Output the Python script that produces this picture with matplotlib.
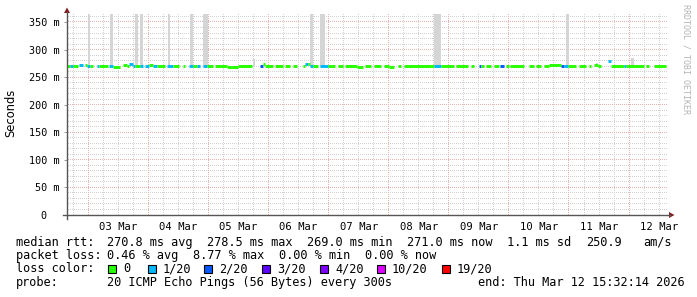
import matplotlib
matplotlib.use("Agg")
import matplotlib.pyplot as plt
import matplotlib.dates as mdates
from matplotlib.lines import Line2D
from matplotlib.patches import Rectangle, Polygon
import numpy as np
from datetime import datetime

# ---------------- data ----------------
start_time = datetime(2026, 3, 2, 15, 32, 14)
end_time = datetime(2026, 3, 12, 15, 32, 14)

# median rtt segments: hours since start, median (ms), loss class index
seg_start = [0.0, 1.2, 2.4, 4.8, 7.2, 8.0, 9.2, 12.0, 12.8, 16.8, 18.4, 22.4, 24.0, 24.8,
             26.4, 27.2, 29.2, 31.2, 32.8, 34.4, 36.0, 40.0, 42.4, 46.4, 48.8, 50.4, 52.0,
             54.4, 56.0, 59.2, 64.0, 68.4, 77.2, 78.4, 79.2, 83.2, 87.2, 90.4, 94.4, 95.2,
             96.4, 97.2, 98.4, 101.2, 104.4, 108.4, 111.2, 116.0, 119.2, 122.4, 126.4, 128.4,
             132.0, 134.4, 146.4, 149.2, 155.2, 161.2, 164.4, 165.2, 167.2, 170.4, 172.8,
             175.2, 176.8, 184.4, 187.2, 190.4, 192.4, 197.2, 198.4, 200.0, 204.4, 208.4,
             210.4, 212.0, 216.0, 217.2, 222.4, 223.2, 231.2, 234.4]
seg_end = [1.2, 2.4, 4.4, 6.4, 8.0, 9.2, 10.4, 12.8, 16.4, 18.4, 21.2, 24.0, 24.8, 26.4,
           27.2, 29.2, 30.4, 32.8, 34.4, 36.0, 39.2, 42.4, 44.8, 47.2, 50.4, 52.0, 53.2,
           56.0, 58.4, 64.0, 68.4, 74.0, 78.4, 79.2, 82.4, 86.4, 89.2, 92.0, 95.2, 96.4,
           97.2, 98.4, 100.4, 104.4, 107.2, 110.4, 116.0, 118.4, 121.2, 125.2, 128.4, 130.4,
           133.2, 146.4, 149.2, 154.4, 160.0, 162.4, 165.2, 166.4, 169.2, 172.4, 174.4,
           176.4, 182.4, 186.4, 189.2, 192.4, 197.2, 198.4, 200.0, 203.2, 207.2, 209.2,
           212.0, 213.2, 217.2, 222.4, 223.2, 230.4, 232.4, 239.2]
seg_median_ms = [270, 270, 270, 272.5, 272, 270, 270, 270, 270, 270, 268.5, 272, 270.5, 273.5,
                 270, 270, 270, 270, 272, 270.5, 269.5, 270, 270, 270, 270, 270, 270,
                 270, 270, 270, 268.5, 270, 270, 273, 270, 270, 270, 270, 270, 273,
                 274, 270, 270, 270, 270, 270, 270.5, 268.5, 270, 270, 270, 269,
                 270, 270.5, 270, 270, 270, 270, 270, 270, 270, 270, 269.5,
                 270, 270, 270, 270, 270, 272.5, 270, 270, 270, 270, 270,
                 271.5, 270, 278.5, 270, 270, 270, 270, 270]
seg_loss = [0, 1, 0, 1, 0, 1, 0, 1, 0, 1, 0, 0, 0, 1,
            1, 0, 1, 1, 0, 1, 0, 1, 0, 0, 1, 0, 1,
            1, 0, 0, 0, 0, 2, 0, 0, 0, 0, 0, 0, 1,
            0, 1, 0, 1, 0, 0, 0, 0, 0, 0, 0, 0,
            0, 0, 1, 0, 0, 0, 2, 0, 0, 0, 2,
            0, 0, 0, 0, 0, 0, 2, 1, 0, 0, 0,
            0, 0, 1, 0, 1, 0, 0, 0]

# smoke spikes: hours since start, top of smoke (ms)
spike_start = [8.4, 17.2, 27.2, 29.2, 40.4, 49.2, 54.4, 74.4, 97.2, 101.2, 146.4, 199.2, 211.2, 225.2]
spike_end = [9.2, 18.4, 28.4, 30.4, 41.2, 50.4, 56.4, 75.2, 98.4, 103.2, 149.2, 200.4, 212.0, 226.4]
spike_top_ms = [380, 380, 380, 380, 380, 380, 380, 282, 380, 380, 380, 380, 276, 285]

y_ticks_ms = [0, 50, 100, 150, 200, 250, 300, 350]
y_tick_labels = ["0  ", "50 m", "100 m", "150 m", "200 m", "250 m", "300 m", "350 m"]

loss_labels = ["0", "1/20", "2/20", "3/20", "4/20", "10/20", "19/20"]
loss_colors = ["#26ff00", "#00b8ff", "#0059ff", "#5e00ff", "#7e00ff", "#dd00ff", "#ff0000"]

rtt_stats = ["270.8 ms avg", "278.5 ms max", "269.0 ms min", "271.0 ms now", "1.1 ms sd", "250.9", "am/s"]
loss_stats = ["0.46 % avg", "8.77 % max", "0.00 % min", "0.00 % now"]
probe_text = "20 ICMP Echo Pings (56 Bytes) every 300s"
end_text = "end: Thu Mar 12 15:32:14 2026"

# ---------------- figure ----------------
W, H = 697, 297
MONO = "DejaVu Sans Mono"
fig = plt.figure(figsize=(W / 100, H / 100), dpi=100)
fig.patch.set_facecolor("white")


def fx(px):
    return px / W


def fy(py):
    return 1 - py / H


ax = fig.add_axes([fx(67), fy(215), (668 - 67) / W, (215 - 14) / H])
ax.patch.set_visible(False)
t0 = mdates.date2num(start_time)
t1 = mdates.date2num(end_time)
ax.set_xlim(t0, t1)
ymax = 0.3645
ax.set_ylim(0, ymax)
for s in ax.spines.values():
    s.set_visible(False)

# ---------- pixel-exact dotted grid (positions from the axes scales) ----------
grid_img = np.zeros((H, W, 4), dtype=np.float32)
minor_rgba = np.array([0.82, 0.82, 0.82, 1.0], dtype=np.float32)
major_rgba = np.array([0.91, 0.70, 0.70, 1.0], dtype=np.float32)
(px_left, px_bot), (px_right, px_top) = ax.transAxes.transform([(0, 0), (1, 1)])
c_left, c_right = int(round(px_left)) + 1, int(round(px_right))
r_top, r_bot = H - int(round(px_top)), H - int(round(px_bot)) - 1


def hrow(v_sec):
    yd = ax.transData.transform((t0, v_sec))[1]
    return H - 1 - int(np.floor(yd))


def vcol(v_num):
    xd = ax.transData.transform((v_num, 0))[0]
    return int(np.floor(xd))


minor_y = [v for v in range(10, 365, 10) if v % 50 != 0]
minor_loc = mdates.HourLocator(byhour=[0, 6, 12, 18])
major_loc = mdates.DayLocator()
minor_x = [v for v in minor_loc.tick_values(start_time, end_time) if t0 < v < t1]
major_x = [v for v in major_loc.tick_values(start_time, end_time) if t0 < v < t1]


def draw_h(row, rgba):
    for c in range(c_left, c_right):
        if c % 2 == 0:
            grid_img[row, c] = rgba


def draw_v(col, rgba):
    for r in range(r_top, r_bot + 1):
        if r % 2 == 0:
            grid_img[r, col] = rgba


for v in minor_y:
    draw_h(hrow(v / 1000), minor_rgba)
for v in minor_x:
    draw_v(vcol(v), minor_rgba)
for v in y_ticks_ms[1:]:
    draw_h(hrow(v / 1000), major_rgba)
for v in major_x:
    draw_v(vcol(v), major_rgba)
fig.figimage(grid_img, xo=0, yo=0, origin="upper", zorder=-1)

# smoke
for s0, s1, top in zip(spike_start, spike_end, spike_top_ms):
    ax.bar(t0 + s0 / 24, (top - 268) / 1000, width=(s1 - s0) / 24, bottom=0.268,
           align="edge", color="#d5d5d5", linewidth=0, zorder=1)

# median segments
xs0 = [t0 + h / 24 for h in seg_start]
xs1 = [t0 + h / 24 for h in seg_end]
ys = [m / 1000 for m in seg_median_ms]
cols = [loss_colors[i] for i in seg_loss]
ax.hlines(ys, xs0, xs1, colors=cols, lw=2.1, capstyle="butt", zorder=3)

# ticks
ax.set_yticks([v / 1000 for v in y_ticks_ms])
ax.set_yticklabels(y_tick_labels, fontfamily=MONO, fontsize=7.3)
ax.tick_params(axis="y", length=2, width=0.7, color="#999999", pad=3.5)
noon_loc = mdates.HourLocator(byhour=[12])
noons = [v for v in noon_loc.tick_values(start_time, end_time) if t0 < v < t1]
ax.set_xticks(noons)
ax.set_xticklabels([mdates.num2date(v).strftime("%d %b") for v in noons],
                   fontfamily=MONO, fontsize=7.6)
ax.tick_params(axis="x", length=0, pad=4.8)

# axes lines and arrows
axis_col = "#555555"
fig.add_artist(Line2D([fx(63), fx(670)], [fy(215), fy(215)], transform=fig.transFigure,
                      color=axis_col, lw=1.0))
fig.add_artist(Line2D([fx(67), fx(67)], [fy(219), fy(12)], transform=fig.transFigure,
                      color=axis_col, lw=1.0))
arrow_col = "#7f1f1f"
fig.add_artist(Polygon([(fx(64), fy(13)), (fx(70), fy(13)), (fx(67), fy(7.5))],
                       closed=True, transform=fig.transFigure, color=arrow_col, lw=0))
fig.add_artist(Polygon([(fx(669), fy(212)), (fx(669), fy(218)), (fx(674.5), fy(215))],
                       closed=True, transform=fig.transFigure, color=arrow_col, lw=0))

# labels
fig.text(fx(11), fy(113), "Seconds", rotation=90, ha="center", va="center",
         fontfamily="DejaVu Sans", fontsize=8.3)
fig.text(fx(686), fy(4), "RRDTOOL / TOBI OETIKER", rotation=270, ha="center", va="top",
         fontfamily=MONO, fontsize=6.0, color="#b4b4b4")

# legend
FS = 8.6
rows_y = [245.7, 259.1, 272.5, 286.0]
fig.text(fx(16), fy(rows_y[0]), "median rtt:", fontfamily=MONO, fontsize=FS, va="baseline")
for xp, t in zip([107, 207, 307, 407, 507, 586, 643], rtt_stats):
    fig.text(fx(xp), fy(rows_y[0]), t, fontfamily=MONO, fontsize=FS, va="baseline")
fig.text(fx(16), fy(rows_y[1]), "packet loss:", fontfamily=MONO, fontsize=FS, va="baseline")
for xp, t in zip([107, 193, 279, 365], loss_stats):
    fig.text(fx(xp), fy(rows_y[1]), t, fontfamily=MONO, fontsize=FS, va="baseline")
fig.text(fx(16), fy(rows_y[2]), "loss color:", fontfamily=MONO, fontsize=FS, va="baseline")
for xp, lab, c in zip([108, 148, 204, 262, 320, 377, 442], loss_labels, loss_colors):
    fig.add_artist(Rectangle((fx(xp), fy(273)), 8 / W, 8 / H, transform=fig.transFigure,
                             facecolor=c, edgecolor="black", lw=0.8))
    fig.text(fx(xp + 15), fy(rows_y[2]), lab, fontfamily=MONO, fontsize=FS, va="baseline")
fig.text(fx(16), fy(rows_y[3]), "probe:", fontfamily=MONO, fontsize=FS, va="baseline")
fig.text(fx(107), fy(rows_y[3]), probe_text, fontfamily=MONO, fontsize=FS, va="baseline")
fig.text(fx(478), fy(rows_y[3]), end_text, fontfamily=MONO, fontsize=FS, va="baseline")

fig.savefig("out.png", dpi=100, facecolor="white")
